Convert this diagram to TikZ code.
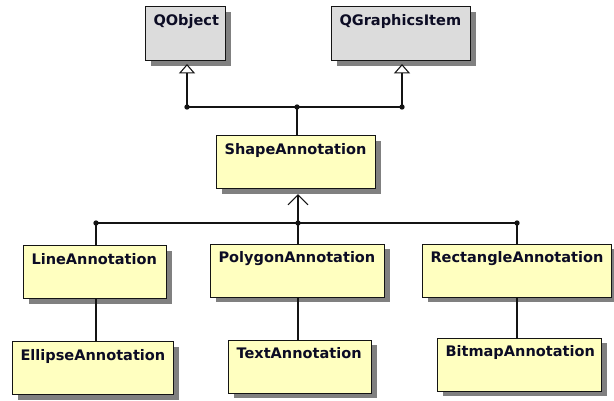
\documentclass[tikz,border=0pt]{standalone}
\usepackage{fontspec}
\newfontfamily\classfont{DejaVu Sans}
\usetikzlibrary{arrows.meta,shadows}

\definecolor{classyellow}{RGB}{255,255,192}
\definecolor{classgray}{RGB}{220,220,220}
\definecolor{shadowgray}{RGB}{128,128,128}
\definecolor{linecol}{RGB}{20,20,20}
\definecolor{textcol}{RGB}{12,12,36}

\tikzset{
  % class box: width and height given in pixel units, title at the top left
  classbox/.code 2 args={%
    \pgfmathsetmacro\cbw{(#1-16)*0.75}%
    \pgfmathsetmacro\cbd{(#2-16)*0.75-8}%
    \edef\cbtmp{\noexpand\tikzset{text width=\cbw pt,text depth=\cbd pt}}\cbtmp
    \tikzset{cbstyle}},
  cbstyle/.style={draw=linecol, line width=0.8pt, fill=classyellow,
    anchor=north west, inner xsep=6pt, inner ysep=6pt, text height=8pt,
    align=left, text=textcol,
    font=\classfont\bfseries\fontsize{10.9pt}{13pt}\selectfont,
    drop shadow={shadow xshift=3.75pt, shadow yshift=-3.75pt,
      fill=shadowgray, opacity=1}},
  qtclass/.style={fill=classgray},
  link/.style={draw=linecol, line width=0.8pt},
  realize/.style={link, -{Triangle[open, width=12pt, length=7pt, line width=0.8pt]}},
  inherit/.style={link, -{Straight Barb[width=15pt, length=7.5pt, line width=0.8pt]}},
  dot/.style={circle, fill=linecol, inner sep=0pt, minimum size=4pt}
}

\begin{document}
\begin{tikzpicture}[x=0.75pt, y=-0.75pt]
  \useasboundingbox (0,0) rectangle (614,400);

  % base classes
  \node[classbox={80}{54}, qtclass] (qobj) at (145,6) {QObject};
  \node[classbox={139}{54}, qtclass] (qgi) at (331,6) {QGraphicsItem};

  % common base
  \node[classbox={159}{53}] (shape) at (216,135) {ShapeAnnotation};

  % derived classes
  \node[classbox={143}{53}] (line) at (23,245) {LineAnnotation};
  \node[classbox={174}{53}] (poly) at (210,243.5) {PolygonAnnotation};
  \node[classbox={189}{53}] (rect) at (422,243.5) {RectangleAnnotation};
  \node[classbox={161}{53}] (ell) at (12,341) {EllipseAnnotation};
  \node[classbox={143}{53}] (txt) at (228,339.5) {TextAnnotation};
  \node[classbox={164}{53}] (bmp) at (437,337.5) {BitmapAnnotation};

  % junction points
  \coordinate (jqo) at (187,107);
  \coordinate (jmid) at (297,107);
  \coordinate (jqg) at (402,107);
  \coordinate (jl) at (96,223);
  \coordinate (jc) at (298,223);
  \coordinate (jr) at (517,223);
  \coordinate (tqo) at (187,64);
  \coordinate (tqg) at (402,64);
  \coordinate (tsh) at (298,194);

  % ShapeAnnotation -> QObject, QGraphicsItem
  \draw[link] (jqo) -- (jqg);
  \draw[link] (jmid) -- (jmid |- shape.north);
  \draw[realize] (jqo) -- (tqo);
  \draw[realize] (jqg) -- (tqg);

  % subclasses -> ShapeAnnotation
  \draw[link] (jl) -- (jr);
  \draw[inherit] (jc) -- (tsh);
  \draw[link] (jl) -- (jl |- line.north);
  \draw[link] (jc) -- (jc |- poly.north);
  \draw[link] (jr) -- (jr |- rect.north);

  % second level links
  \draw[link] (jl |- line.south) -- (jl |- ell.north);
  \draw[link] (jc |- poly.south) -- (jc |- txt.north);
  \draw[link] (jr |- rect.south) -- (jr |- bmp.north);

  % junction dots
  \foreach \j in {jqo,jmid,jqg,jl,jc,jr}
    \node[dot] at (\j) {};
\end{tikzpicture}
\end{document}
